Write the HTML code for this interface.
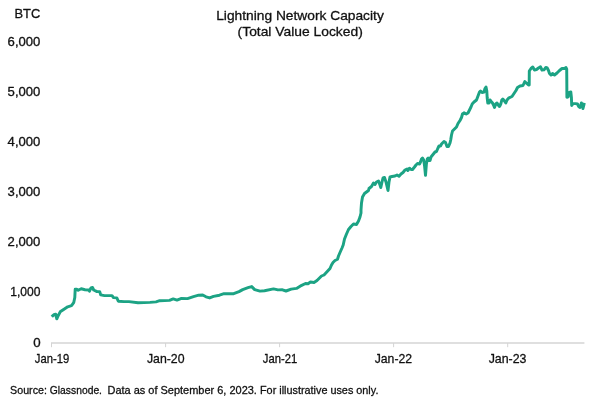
<!DOCTYPE html>
<html lang="en">
<head>
<meta charset="utf-8">
<title>Lightning Network Capacity (Total Value Locked)</title>
<style>
html,body{margin:0;padding:0;background:#ffffff;}
body{width:600px;height:401px;overflow:hidden;}
svg{display:block;}
svg text{font-family:"Liberation Sans", Arial, Helvetica, sans-serif;fill:#111111;stroke:#111111;stroke-width:0.3px;stroke-linejoin:round;}
</style>
</head>
<body>
<svg width="600" height="401" viewBox="0 0 600 401">
<rect x="0" y="0" width="600" height="401" fill="#ffffff"/>
<g class="title">
<text x="216.2" y="19.8" font-size="13.3" text-anchor="start" textLength="167.6" lengthAdjust="spacingAndGlyphs">Lightning Network Capacity</text>
<text x="237.6" y="35.8" font-size="13.3" text-anchor="start" textLength="125.2" lengthAdjust="spacingAndGlyphs">(Total Value Locked)</text>
</g>
<g class="unit">
<text x="14.5" y="17.7" font-size="13" text-anchor="start" textLength="25.8" lengthAdjust="spacingAndGlyphs">BTC</text>
</g>
<g class="y-axis">
<text x="40.4" y="46.1" font-size="12.1" text-anchor="end" textLength="32.8" lengthAdjust="spacingAndGlyphs">6,000</text>
<text x="40.4" y="96.1" font-size="12.1" text-anchor="end" textLength="32.8" lengthAdjust="spacingAndGlyphs">5,000</text>
<text x="40.4" y="146.1" font-size="12.1" text-anchor="end" textLength="32.8" lengthAdjust="spacingAndGlyphs">4,000</text>
<text x="40.4" y="196.1" font-size="12.1" text-anchor="end" textLength="32.8" lengthAdjust="spacingAndGlyphs">3,000</text>
<text x="40.4" y="246.1" font-size="12.1" text-anchor="end" textLength="32.8" lengthAdjust="spacingAndGlyphs">2,000</text>
<text x="40.4" y="296.1" font-size="12.1" text-anchor="end" textLength="30.2" lengthAdjust="spacingAndGlyphs">1,000</text>
<text x="40.6" y="346.8" font-size="12.1" text-anchor="end" textLength="7.4" lengthAdjust="spacingAndGlyphs">0</text>
</g>
<g class="x-axis" stroke="#d4d4d4" stroke-width="1.3" fill="none">
<line x1="51.0" y1="343.0" x2="584.4" y2="343.0"/>
<line x1="51.5" y1="343" x2="51.5" y2="347.2" stroke-width="1"/><line x1="165.6" y1="343" x2="165.6" y2="347.2" stroke-width="1"/><line x1="279.6" y1="343" x2="279.6" y2="347.2" stroke-width="1"/><line x1="393.6" y1="343" x2="393.6" y2="347.2" stroke-width="1"/><line x1="507.7" y1="343" x2="507.7" y2="347.2" stroke-width="1"/>
</g>
<g class="x-labels">
<text x="52.0" y="362.9" font-size="13" text-anchor="middle" textLength="34.4" lengthAdjust="spacingAndGlyphs">Jan-19</text>
<text x="165.7" y="362.9" font-size="13" text-anchor="middle" textLength="37.6" lengthAdjust="spacingAndGlyphs">Jan-20</text>
<text x="280.0" y="362.9" font-size="13" text-anchor="middle" textLength="34.4" lengthAdjust="spacingAndGlyphs">Jan-21</text>
<text x="393.4" y="362.9" font-size="13" text-anchor="middle" textLength="37.4" lengthAdjust="spacingAndGlyphs">Jan-22</text>
<text x="507.6" y="362.9" font-size="13" text-anchor="middle" textLength="37.8" lengthAdjust="spacingAndGlyphs">Jan-23</text>
</g>
<path class="series" d="M51.8,316.8 L52.3,316.2 L53.8,314.8 L55.7,314.3 L56.8,318.8 L58.3,315.5 L60.2,311.8 L64.0,309.2 L67.7,306.8 L71.5,305.7 L73.7,302.7 L74.8,297.5 L75.2,289.2 L76.7,289.2 L78.2,290.3 L81.2,288.8 L85.0,289.7 L88.7,290.0 L89.5,291.2 L91.0,287.9 L92.5,287.5 L93.7,290.0 L97.0,291.6 L99.7,291.6 L100.7,294.9 L104.5,295.6 L112.0,295.6 L113.5,297.6 L116.8,297.9 L118.3,301.2 L124.0,301.6 L129.0,301.6 L138.0,302.8 L150.0,302.4 L156.0,301.9 L159.7,300.7 L169.5,300.4 L173.2,298.9 L177.0,300.1 L181.5,298.4 L187.5,298.6 L193.5,296.6 L198.7,295.2 L202.7,295.0 L206.0,296.8 L209.7,297.9 L213.5,296.4 L219.5,295.2 L224.0,293.7 L233.7,293.7 L239.0,291.6 L242.7,289.6 L248.0,287.7 L251.7,286.6 L254.7,289.6 L260.0,291.1 L264.5,290.7 L273.5,288.9 L278.0,289.9 L282.5,289.8 L286.0,291.0 L291.2,289.1 L296.5,288.4 L301.7,285.3 L305.5,283.5 L308.0,283.8 L310.5,282.0 L314.0,282.5 L317.0,280.5 L319.5,278.0 L321.5,276.0 L324.0,275.0 L327.0,271.8 L330.0,268.5 L331.5,265.0 L333.0,262.5 L335.0,260.5 L337.5,259.2 L338.5,256.0 L340.0,252.5 L342.0,248.0 L343.2,245.0 L344.5,239.0 L346.5,234.0 L348.5,229.5 L351.0,226.5 L353.5,224.0 L356.5,224.5 L358.5,221.0 L360.0,217.0 L361.0,213.0 L361.0,210.0 L361.5,203.0 L362.5,197.0 L364.5,193.5 L366.5,192.0 L368.5,190.5 L369.0,188.5 L371.5,186.5 L373.5,183.0 L375.0,184.5 L376.5,182.0 L378.5,181.0 L380.0,185.0 L380.8,187.5 L382.0,182.0 L383.0,178.0 L384.5,177.5 L386.0,182.0 L388.0,190.5 L389.0,182.0 L390.0,177.0 L392.0,176.5 L395.0,176.0 L397.0,175.0 L399.0,176.2 L401.0,174.0 L403.0,172.5 L405.0,170.0 L407.0,169.0 L407.8,170.5 L409.5,168.2 L411.0,169.5 L412.5,169.5 L414.5,167.0 L416.0,165.0 L417.5,163.5 L419.5,164.0 L420.5,162.0 L421.5,159.0 L422.5,158.0 L423.7,160.0 L424.6,166.0 L425.5,175.3 L426.4,164.0 L427.3,159.0 L428.2,158.0 L429.0,160.5 L430.0,160.5 L431.0,157.0 L433.0,154.5 L435.0,152.0 L436.5,151.5 L438.0,148.0 L439.0,146.0 L440.5,146.0 L441.5,144.0 L444.0,141.5 L445.5,142.5 L447.0,146.5 L448.5,146.5 L450.0,143.0 L450.7,140.0 L451.5,135.0 L452.5,131.0 L454.5,129.0 L456.5,127.0 L458.0,123.5 L460.0,120.5 L461.5,117.5 L462.5,114.0 L464.0,112.8 L466.2,114.0 L468.0,113.0 L469.5,110.0 L471.0,107.0 L472.2,104.0 L474.0,102.0 L476.5,100.0 L478.0,96.0 L479.5,92.0 L480.5,91.0 L482.0,92.5 L484.0,92.0 L485.0,88.5 L486.0,87.0 L486.8,91.0 L487.2,98.0 L487.8,103.0 L489.0,103.0 L490.0,100.0 L491.2,101.5 L492.5,103.0 L493.5,105.0 L494.5,107.5 L495.8,104.0 L497.0,103.0 L498.2,105.0 L499.5,106.5 L500.8,104.0 L501.8,100.0 L502.8,99.0 L504.0,100.5 L505.8,103.0 L507.0,100.0 L509.0,97.8 L512.0,96.5 L514.0,93.5 L516.0,90.5 L517.5,87.5 L520.0,86.0 L523.0,85.5 L524.8,81.5 L526.5,83.2 L528.5,85.0 L529.2,85.0 L529.3,71.0 L531.0,68.5 L532.8,67.0 L534.5,70.0 L536.5,69.5 L538.5,68.0 L540.5,66.8 L542.0,70.0 L544.0,69.8 L545.8,67.5 L547.2,68.0 L548.5,70.5 L549.5,73.5 L551.0,75.0 L552.5,73.5 L554.5,75.0 L557.0,73.0 L559.5,70.5 L562.0,68.5 L564.5,68.5 L566.0,67.5 L566.7,69.0 L566.8,80.0 L566.9,97.3 L568.1,96.9 L569.3,92.4 L570.8,92.0 L571.4,97.3 L571.7,105.5 L573.0,103.6 L575.6,103.6 L577.5,104.0 L578.6,106.3 L579.8,107.4 L580.9,105.1 L581.4,102.9 L582.4,106.3 L582.9,108.5 L583.9,104.8 L584.3,102.9" fill="none" stroke="#1ca384" stroke-width="2.95" stroke-linejoin="round" stroke-linecap="butt"/>
<g class="source">
<text x="10.1" y="394.2" font-size="11.6" text-anchor="start" textLength="36.8" lengthAdjust="spacingAndGlyphs">Source:</text>
<text x="49.8" y="394.2" font-size="11.6" text-anchor="start" textLength="52.2" lengthAdjust="spacingAndGlyphs">Glassnode.</text>
<text x="107.5" y="394.2" font-size="11.6" text-anchor="start" textLength="149.4" lengthAdjust="spacingAndGlyphs">Data as of September 6, 2023.</text>
<text x="260" y="394.2" font-size="11.6" text-anchor="start" textLength="118.4" lengthAdjust="spacingAndGlyphs">For illustrative uses only.</text>
</g>
</svg>
</body>
</html>
